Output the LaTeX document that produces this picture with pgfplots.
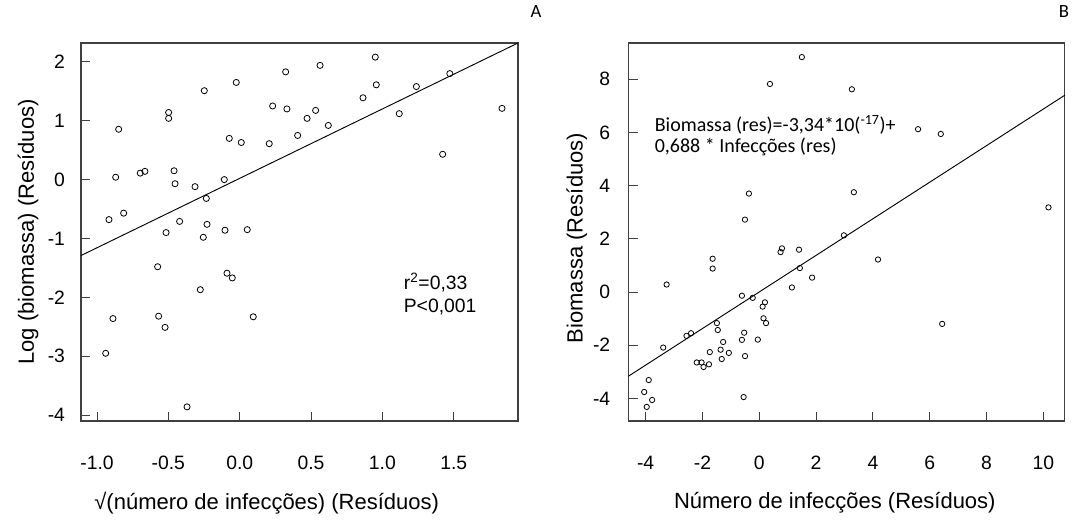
\documentclass[border=0pt]{standalone}
\usepackage{fontspec}
\setmainfont{Liberation Sans}
\newfontfamily\calibrifont{Carlito}
\usepackage{pgfplots}
\pgfplotsset{compat=1.18}

\pgfplotsset{
  resid/.style={
    scale only axis,
    height=283.5pt,
    axis line style={black!75, line width=0.8pt},
    tick style={black!75, line width=0.6pt},
    major tick length=7pt,
    xtick pos=left, ytick pos=left,
    tick label style={font=\fontsize{14.5}{17}\selectfont},
    /pgf/number format/assume math mode=true,
    xticklabel shift=23pt,
    yticklabel shift=8.5pt,
    label style={font=\fontsize{16.5}{19}\selectfont},
    clip=false,
  },
  pts/.style={only marks, mark=o, mark size=#1, mark options={line width=0.6pt, black}},
}

\begin{document}
\begin{tikzpicture}
\useasboundingbox (0,0) rectangle (804pt,390.75pt);

% A
\begin{axis}[resid,
  at={(60.75pt,75pt)}, anchor=south west,
  width=327.75pt,
  xmin=-1.112, xmax=1.95, ymin=-4.1, ymax=2.32,
  xtick={-1,-0.5,0,0.5,1,1.5}, ytick={-4,-3,-2,-1,0,1,2},
  xticklabel style={/pgf/number format/.cd, fixed, fixed zerofill, precision=1},
  xlabel={\char"221A(número de infecções) (Resíduos)},
  xlabel style={at={(axis description cs:0.425,-0.217)}, anchor=center},
  ylabel={Log (biomassa) (Resíduos)},
  ylabel style={at={(axis description cs:-0.121,0.5)}, anchor=center},
]
\addplot[pts=2.3pt] coordinates {
  (-0.848,0.855) (-0.498,1.14) (-0.498,1.04) (-0.248,1.51) (-0.024,1.65)
  (0.322,1.83) (0.231,1.25) (0.331,1.20) (0.472,1.04) (-0.073,0.70)
  (0.011,0.63) (0.207,0.61) (0.406,0.75) (-0.869,0.04) (-0.697,0.11)
  (-0.664,0.14) (-0.460,0.15) (-0.453,-0.07) (-0.313,-0.12) (-0.108,0.00)
  (-0.234,-0.32) (0.563,1.94) (0.950,2.08) (0.957,1.61) (0.864,1.39)
  (1.238,1.58) (1.472,1.80) (1.838,1.21) (0.532,1.175) (0.621,0.92)
  (1.118,1.12) (1.422,0.43) (-0.916,-0.68) (-0.813,-0.57) (-0.421,-0.71)
  (-0.516,-0.90) (-0.229,-0.76) (-0.255,-0.98) (-0.103,-0.86) (0.053,-0.85)
  (-0.575,-1.48) (-0.089,-1.59) (-0.052,-1.67) (-0.276,-1.87) (-0.888,-2.36)
  (-0.568,-2.32) (-0.523,-2.51) (0.095,-2.33) (-0.939,-2.95) (-0.369,-3.86)
};
\addplot[black, line width=0.7pt] coordinates {(-1.112,-1.29) (1.95,2.32)};
\node[anchor=base west, font=\fontsize{14.5}{17}\selectfont] at (axis description cs:0.728,0.347) {r\textsuperscript{2}=0,33};
\node[anchor=base west, font=\fontsize{14.5}{17}\selectfont] at (axis description cs:0.728,0.288) {P<0,001};
\node[font=\calibrifont\fontsize{14}{17}\selectfont] at (axis description cs:1.041,1.082) {A};
\end{axis}

% B
\begin{axis}[resid,
  at={(471.2pt,75pt)}, anchor=south west,
  width=327.5pt,
  xmin=-4.61, xmax=10.76, ymin=-4.85, ymax=9.36,
  xtick={-4,-2,...,10}, ytick={-4,-2,...,8},
  yticklabel shift=10pt,
  xlabel={Número de infecções (Resíduos)},
  xlabel style={at={(axis description cs:0.473,-0.217)}, anchor=center},
  ylabel={Biomassa (Resíduos)},
  ylabel style={at={(axis description cs:-0.118,0.484)}, anchor=center},
]
\addplot[pts=2pt] coordinates {
  (1.50,8.83) (0.377,7.82) (-0.363,3.70) (-0.503,2.72) (3.26,7.62)
  (5.59,6.12) (6.39,5.94) (3.33,3.75) (10.18,3.18) (2.98,2.13)
  (4.18,1.22) (6.44,-1.20) (-1.64,1.25) (-1.64,0.88) (-3.26,0.28)
  (0.80,1.64) (0.75,1.50) (1.40,1.59) (1.43,0.90) (1.86,0.54)
  (1.15,0.17) (-0.61,-0.14) (-0.23,-0.22) (0.20,-0.39) (0.12,-0.55)
  (0.15,-0.99) (0.24,-1.17) (-1.49,-1.17) (-1.46,-1.43) (-0.53,-1.53)
  (-0.61,-1.80) (-0.05,-1.79) (-1.27,-1.88) (-2.56,-1.65) (-2.40,-1.55)
  (-3.38,-2.09) (-1.74,-2.26) (-1.36,-2.17) (-1.07,-2.29) (-1.32,-2.52)
  (-0.50,-2.41) (-2.20,-2.65) (-2.03,-2.65) (-1.96,-2.82) (-1.77,-2.72)
  (-3.89,-3.31) (-4.05,-3.76) (-3.77,-4.06) (-3.96,-4.32) (-0.55,-3.95)
};
\addplot[black, line width=0.7pt] coordinates {(-4.61,-3.17) (10.76,7.40)};
\node[anchor=base west, font=\calibrifont\fontsize{15}{18}\selectfont] at (axis description cs:0.05,0.767) {Biomassa (res)=-3,34*10(\textsuperscript{-17})+};
\node[anchor=base west, font=\calibrifont\fontsize{15}{18}\selectfont] at (axis description cs:0.05,0.709) {0,688 * Infecções (res)};
\node[font=\calibrifont\fontsize{14}{17}\selectfont] at (axis description cs:0.998,1.082) {B};
\end{axis}
\end{tikzpicture}
\end{document}
